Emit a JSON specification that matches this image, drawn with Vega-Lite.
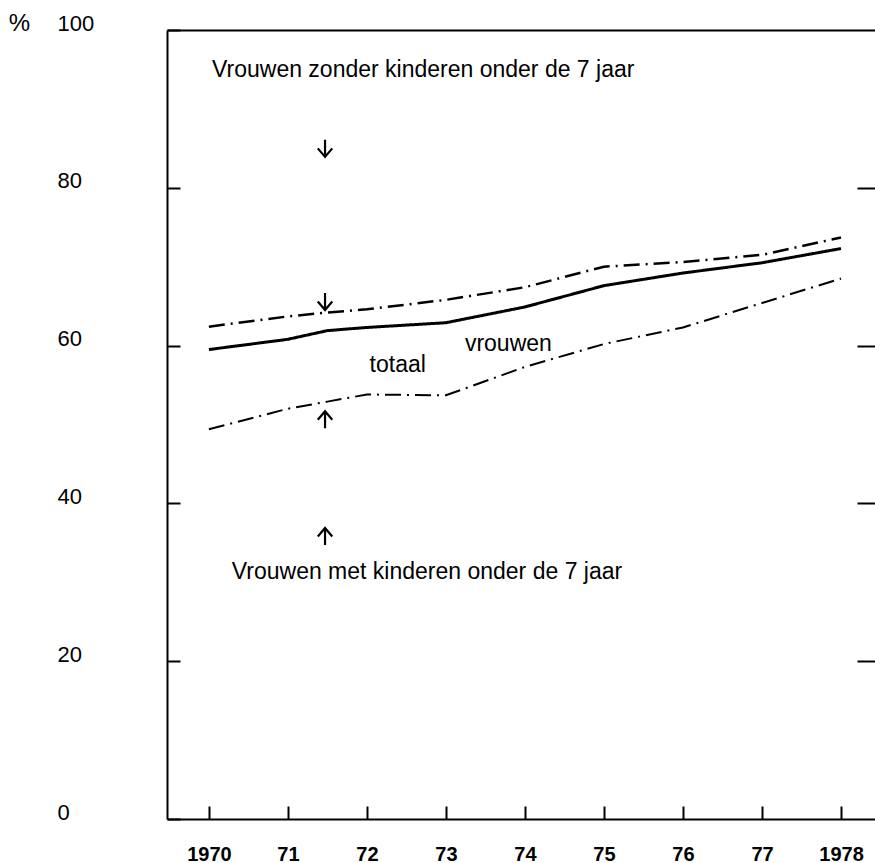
{
  "$schema": "https://vega.github.io/schema/vega-lite/v6.json",
  "width": 708,
  "height": 789,
  "autosize": {"type": "none"},
  "padding": {"left": 167, "top": 30, "right": 0, "bottom": 44},
  "background": "white",
  "config": {
    "view": {"stroke": null},
    "font": "Liberation Sans",
    "axis": {"grid": false, "domainColor": "black", "tickColor": "black", "labelColor": "black", "titleColor": "black", "domainWidth": 2, "tickWidth": 2}
  },
  "datasets": {
    "lijnen": [
      {"reeks": "totaal", "jaar": 1970, "pct": 59.5},
      {"reeks": "totaal", "jaar": 1971, "pct": 60.8},
      {"reeks": "totaal", "jaar": 1971.5, "pct": 61.9},
      {"reeks": "totaal", "jaar": 1972, "pct": 62.3},
      {"reeks": "totaal", "jaar": 1973, "pct": 62.9},
      {"reeks": "totaal", "jaar": 1974, "pct": 64.9},
      {"reeks": "totaal", "jaar": 1975, "pct": 67.6},
      {"reeks": "totaal", "jaar": 1976, "pct": 69.2},
      {"reeks": "totaal", "jaar": 1977, "pct": 70.5},
      {"reeks": "totaal", "jaar": 1978, "pct": 72.3},
      {"reeks": "zonder", "jaar": 1970, "pct": 62.4},
      {"reeks": "zonder", "jaar": 1971, "pct": 63.7},
      {"reeks": "zonder", "jaar": 1971.5, "pct": 64.2},
      {"reeks": "zonder", "jaar": 1972, "pct": 64.6},
      {"reeks": "zonder", "jaar": 1973, "pct": 65.8},
      {"reeks": "zonder", "jaar": 1974, "pct": 67.4},
      {"reeks": "zonder", "jaar": 1975, "pct": 70.0},
      {"reeks": "zonder", "jaar": 1976, "pct": 70.6},
      {"reeks": "zonder", "jaar": 1977, "pct": 71.5},
      {"reeks": "zonder", "jaar": 1978, "pct": 73.7},
      {"reeks": "met", "jaar": 1970, "pct": 49.4},
      {"reeks": "met", "jaar": 1971, "pct": 52.0},
      {"reeks": "met", "jaar": 1971.5, "pct": 52.9},
      {"reeks": "met", "jaar": 1972, "pct": 53.8},
      {"reeks": "met", "jaar": 1973, "pct": 53.7},
      {"reeks": "met", "jaar": 1974, "pct": 57.3},
      {"reeks": "met", "jaar": 1975, "pct": 60.2},
      {"reeks": "met", "jaar": 1976, "pct": 62.3},
      {"reeks": "met", "jaar": 1977, "pct": 65.4},
      {"reeks": "met", "jaar": 1978, "pct": 68.5}
    ],
    "pijlen": [
      {"richting": "omlaag", "jaar": 1971.47, "pct": 85.0},
      {"richting": "omlaag", "jaar": 1971.47, "pct": 65.6},
      {"richting": "omhoog", "jaar": 1971.47, "pct": 50.6},
      {"richting": "omhoog", "jaar": 1971.47, "pct": 35.8}
    ],
    "links": [
      {"tekst": "Vrouwen zonder kinderen onder de 7 jaar", "jaar": 1970.04, "pct": 94.9},
      {"tekst": "Vrouwen met kinderen onder de 7 jaar", "jaar": 1970.29, "pct": 31.3},
      {"tekst": "vrouwen", "jaar": 1973.24, "pct": 60.2}
    ],
    "midden": [
      {"tekst": "totaal", "jaar": 1972.39, "pct": 57.5}
    ]
  },
  "layer": [
    {
      "data": {"name": "lijnen"},
      "mark": {"type": "line", "color": "black", "strokeCap": "butt"},
      "encoding": {
        "x": {"field": "jaar", "type": "quantitative", "scale": {"domain": [1969.47, 1978.43], "nice": false, "zero": false},
          "axis": {"orient": "bottom", "values": [1970, 1971, 1972, 1973, 1974, 1975, 1976, 1977, 1978], "tickSize": -13, "labelPadding": 54, "labelBaseline": "alphabetic", "labelFont": "Liberation Sans", "labelFontSize": 20, "labelFontWeight": "bold", "labelFlush": false, "labelOverlap": false, "title": null,
            "labelExpr": "(datum.value == 1970 || datum.value == 1978) ? ('' + datum.value) : substring('' + datum.value, 2)"}},
        "y": {"field": "pct", "type": "quantitative", "scale": {"domain": [0, 100], "nice": false},
          "axis": {"orient": "left", "values": [0, 20, 40, 60, 80, 100], "tickSize": -13, "labelPadding": 123, "labelAlign": "left", "labelBaseline": "middle", "labelOffset": -7, "labelFontSize": 22, "labelFlush": false, "labelOverlap": false,
            "title": "%", "titleAngle": 0, "titleX": -148, "titleY": -7, "titleAlign": "center", "titleBaseline": "middle", "titleFontSize": 24, "titleFontWeight": "normal"}},
        "detail": {"field": "reeks"},
        "strokeDash": {"field": "reeks", "type": "nominal", "scale": {"domain": ["totaal", "zonder", "met"], "range": [[1, 0], [16, 6, 2, 6], [16, 6, 2, 6]]}, "legend": null},
        "strokeWidth": {"field": "reeks", "type": "nominal", "scale": {"domain": ["totaal", "zonder", "met"], "range": [3, 2, 2]}, "legend": null}
      }
    },
    {
      "data": {"name": "pijlen"},
      "mark": {"type": "point", "filled": false, "color": "black", "strokeWidth": 2.2, "opacity": 1, "size": 290,
        "shape": "M0,-1L0,1M-0.85,0L0,1L0.85,0"},
      "encoding": {
        "x": {"field": "jaar", "type": "quantitative", "scale": {"domain": [1969.47, 1978.43], "nice": false, "zero": false},
          "axis": {"orient": "top", "domain": true, "ticks": false, "labels": false, "title": null}},
        "y": {"field": "pct", "type": "quantitative", "scale": {"domain": [0, 100], "nice": false},
          "axis": {"orient": "right", "domain": false, "values": [20, 40, 60, 80], "tickSize": -18, "labels": false, "title": null}},
        "angle": {"field": "richting", "type": "nominal", "scale": {"domain": ["omlaag", "omhoog"], "range": [0, 180]}, "legend": null}
      }
    },
    {
      "data": {"name": "links"},
      "mark": {"type": "text", "align": "left", "baseline": "middle", "fontSize": 23, "color": "black"},
      "encoding": {
        "x": {"field": "jaar", "type": "quantitative", "scale": {"domain": [1969.47, 1978.43], "nice": false, "zero": false}, "axis": null},
        "y": {"field": "pct", "type": "quantitative", "scale": {"domain": [0, 100], "nice": false}, "axis": null},
        "text": {"field": "tekst"}
      }
    },
    {
      "data": {"name": "midden"},
      "mark": {"type": "text", "align": "center", "baseline": "middle", "fontSize": 23, "color": "black"},
      "encoding": {
        "x": {"field": "jaar", "type": "quantitative", "scale": {"domain": [1969.47, 1978.43], "nice": false, "zero": false}, "axis": null},
        "y": {"field": "pct", "type": "quantitative", "scale": {"domain": [0, 100], "nice": false}, "axis": null},
        "text": {"field": "tekst"}
      }
    }
  ],
  "resolve": {"scale": {"x": "independent", "y": "independent"}, "axis": {"x": "independent", "y": "independent"}}
}
